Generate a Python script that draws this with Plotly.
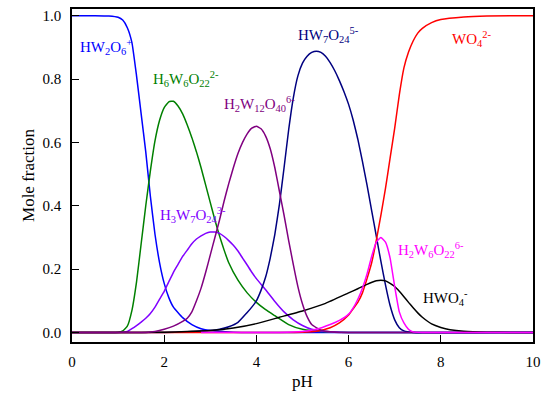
import plotly.graph_objects as go

# ---- data (pH, mole fraction) ----
ph_HW2O6 = [0, 0.5, 0.8, 1.0, 1.1, 1.2, 1.3, 1.4, 1.5, 1.6, 1.7, 1.8, 1.9, 2.0, 2.1, 2.2, 2.4, 2.6, 2.8, 3.0, 3.5, 4.0, 10]
y_HW2O6 = [1.0, 1.0, 0.999, 0.995, 0.986, 0.962, 0.915, 0.81, 0.69, 0.57, 0.43, 0.31, 0.22, 0.155, 0.11, 0.08, 0.047, 0.025, 0.012, 0.006, 0.001, 0, 0]

ph_H6W6 = [0, 0.8, 1.0, 1.1, 1.2, 1.3, 1.4, 1.5, 1.6, 1.7, 1.8, 1.9, 2.0, 2.1, 2.2, 2.3, 2.4, 2.5, 2.6, 2.7, 2.8, 2.9, 3.0, 3.1, 3.2, 3.3, 3.4, 3.6, 3.8, 4.0, 4.2, 4.4, 4.7, 5.0, 5.5, 6.0, 10]
y_H6W6 = [0, 0, 0.001, 0.005, 0.02, 0.07, 0.16, 0.28, 0.40, 0.51, 0.605, 0.67, 0.71, 0.728, 0.73, 0.715, 0.69, 0.655, 0.615, 0.57, 0.52, 0.465, 0.41, 0.355, 0.305, 0.26, 0.22, 0.165, 0.125, 0.095, 0.072, 0.053, 0.025, 0.01, 0.002, 0, 0]

ph_H3W7 = [0, 1.0, 1.2, 1.3, 1.4, 1.5, 1.6, 1.7, 1.8, 1.9, 2.0, 2.1, 2.2, 2.3, 2.4, 2.5, 2.6, 2.7, 2.8, 2.9, 3.0, 3.1, 3.2, 3.3, 3.4, 3.5, 3.6, 3.7, 3.8, 3.9, 4.0, 4.2, 4.4, 4.6, 4.8, 5.0, 5.2, 5.5, 6.0, 10]
y_H3W7 = [0, 0, 0.003, 0.012, 0.022, 0.033, 0.045, 0.06, 0.08, 0.105, 0.13, 0.16, 0.19, 0.215, 0.24, 0.26, 0.28, 0.295, 0.305, 0.313, 0.317, 0.317, 0.313, 0.303, 0.29, 0.275, 0.257, 0.235, 0.213, 0.19, 0.17, 0.135, 0.098, 0.065, 0.04, 0.022, 0.01, 0.003, 0, 0]

ph_H2W12 = [0, 1.6, 1.8, 2.0, 2.2, 2.4, 2.5, 2.6, 2.7, 2.8, 2.9, 3.0, 3.1, 3.2, 3.3, 3.4, 3.5, 3.6, 3.7, 3.8, 3.9, 4.0, 4.1, 4.2, 4.3, 4.4, 4.5, 4.6, 4.7, 4.8, 4.9, 5.0, 5.1, 5.2, 5.4, 5.6, 5.8, 10]
y_H2W12 = [0, 0, 0.003, 0.01, 0.02, 0.035, 0.045, 0.065, 0.10, 0.14, 0.19, 0.245, 0.30, 0.355, 0.415, 0.47, 0.52, 0.565, 0.60, 0.627, 0.645, 0.651, 0.643, 0.62, 0.58, 0.52, 0.445, 0.37, 0.29, 0.215, 0.145, 0.09, 0.05, 0.025, 0.007, 0.002, 0, 0]

ph_HW7 = [0, 2.0, 2.5, 3.0, 3.2, 3.4, 3.6, 3.8, 3.9, 4.0, 4.1, 4.2, 4.3, 4.4, 4.5, 4.6, 4.7, 4.8, 4.9, 5.0, 5.1, 5.2, 5.3, 5.4, 5.5, 5.6, 5.7, 5.8, 5.9, 6.0, 6.1, 6.2, 6.3, 6.4, 6.5, 6.6, 6.7, 6.8, 6.9, 7.0, 7.1, 7.2, 7.4, 10]
y_HW7 = [0, 0, 0.002, 0.006, 0.01, 0.018, 0.032, 0.063, 0.08, 0.10, 0.133, 0.175, 0.235, 0.31, 0.405, 0.52, 0.64, 0.74, 0.81, 0.85, 0.872, 0.884, 0.888, 0.884, 0.872, 0.852, 0.826, 0.795, 0.76, 0.72, 0.67, 0.61, 0.54, 0.465, 0.385, 0.305, 0.225, 0.15, 0.085, 0.04, 0.015, 0.005, 0, 0]

ph_WO4 = [0, 4.5, 5.0, 5.3, 5.6, 5.8, 6.0, 6.1, 6.2, 6.3, 6.4, 6.5, 6.6, 6.7, 6.8, 6.9, 7.0, 7.1, 7.2, 7.3, 7.4, 7.5, 7.6, 7.8, 8.0, 8.5, 9.0, 10]
y_WO4 = [0, 0, 0.001, 0.004, 0.015, 0.03, 0.055, 0.075, 0.095, 0.125, 0.17, 0.22, 0.29, 0.37, 0.455, 0.55, 0.645, 0.75, 0.835, 0.885, 0.92, 0.945, 0.96, 0.978, 0.988, 0.996, 0.999, 1.0]

ph_HWO4 = [0, 1.5, 2.0, 2.5, 3.0, 3.5, 4.0, 4.5, 5.0, 5.5, 6.0, 6.2, 6.4, 6.6, 6.7, 6.8, 6.9, 7.0, 7.1, 7.2, 7.3, 7.4, 7.5, 7.6, 7.8, 8.0, 8.2, 8.5, 9.0, 9.5, 10]
y_HWO4 = [0, 0, 0.001, 0.003, 0.006, 0.014, 0.028, 0.048, 0.068, 0.092, 0.125, 0.138, 0.152, 0.163, 0.165, 0.163, 0.155, 0.145, 0.13, 0.113, 0.095, 0.078, 0.062, 0.048, 0.027, 0.016, 0.009, 0.004, 0.001, 0, 0]

ph_H2W6 = [2.8, 4.5, 5.0, 5.3, 5.6, 5.8, 6.0, 6.1, 6.2, 6.3, 6.4, 6.5, 6.6, 6.7, 6.8, 6.9, 7.0, 7.1, 7.2, 7.3, 7.4, 7.6, 10]
y_H2W6 = [0, 0, 0.003, 0.01, 0.025, 0.038, 0.058, 0.078, 0.105, 0.14, 0.185, 0.24, 0.285, 0.30, 0.285, 0.235, 0.145, 0.065, 0.03, 0.01, 0.002, 0, 0]

# (name, x, y, colour, label html, label x, label y)
series = [
    ("HW2O6+", ph_HW2O6, y_HW2O6, "#0000ff", "HW<sub>2</sub>O<sub>6</sub><sup>+</sup>", 0.12, 0.90),
    ("H6W6O22 2-", ph_H6W6, y_H6W6, "#008000", "H<sub>6</sub>W<sub>6</sub>O<sub>22</sub><sup>2-</sup>", 1.72, 0.80),
    ("H3W7O24 3-", ph_H3W7, y_H3W7, "#8000ff", "H<sub>3</sub>W<sub>7</sub>O<sub>24</sub><sup>3-</sup>", 1.87, 0.37),
    ("HW7O24 5-", ph_HW7, y_HW7, "#000080", "HW<sub>7</sub>O<sub>24</sub><sup>5-</sup>", 4.85, 0.94),
    ("WO4 2-", ph_WO4, y_WO4, "#ff0000", "WO<sub>4</sub><sup>2-</sup>", 8.2, 0.925),
    ("HWO4 -", ph_HWO4, y_HWO4, "#000000", "HWO<sub>4</sub><sup>-</sup>", 7.57, 0.11),
    ("H2W12O40 6-", ph_H2W12, y_H2W12, "#800080", "H<sub>2</sub>W<sub>12</sub>O<sub>40</sub><sup>6-</sup>", 3.25, 0.72),
    ("H2W6O22 6-", ph_H2W6, y_H2W6, "#ff00ff", "H<sub>2</sub>W<sub>6</sub>O<sub>22</sub><sup>6-</sup>", 7.03, 0.26),
]

FONT = "Liberation Serif"

fig = go.Figure()
for name, xs, ys, col, lab, lx, ly in series:
    fig.add_trace(go.Scatter(x=xs, y=ys, mode="lines", name=name,
                             line=dict(color=col, width=1.5, shape="spline", smoothing=0.4)))
    fig.add_annotation(x=lx, y=ly, xref="x", yref="y", text=lab, showarrow=False,
                       xanchor="left", yanchor="middle",
                       font=dict(family=FONT, size=15, color=col))

axis_common = dict(showline=True, linecolor="black", linewidth=1.5, mirror=True,
                   ticks="inside", ticklen=7, tickwidth=1.2, tickcolor="black",
                   showgrid=False, zeroline=False,
                   tickfont=dict(family=FONT, size=15, color="black"))

fig.update_layout(
    width=548, height=395,
    margin=dict(l=72, r=12, t=7, b=49),
    paper_bgcolor="white", plot_bgcolor="white",
    showlegend=False,
    font=dict(family=FONT, color="black"),
    xaxis=dict(range=[0, 10], tickvals=[0, 2, 4, 6, 8, 10], ticklabelstandoff=5,
               title=dict(text="pH", font=dict(family=FONT, size=17), standoff=6),
               **axis_common),
    yaxis=dict(range=[-0.030, 1.021], tickvals=[0, 0.2, 0.4, 0.6, 0.8, 1.0], tickformat=".1f",
               ticklabelstandoff=6,
               title=dict(text="Mole fraction", font=dict(family=FONT, size=17), standoff=4),
               **axis_common),
)

fig.write_html("out.html")
